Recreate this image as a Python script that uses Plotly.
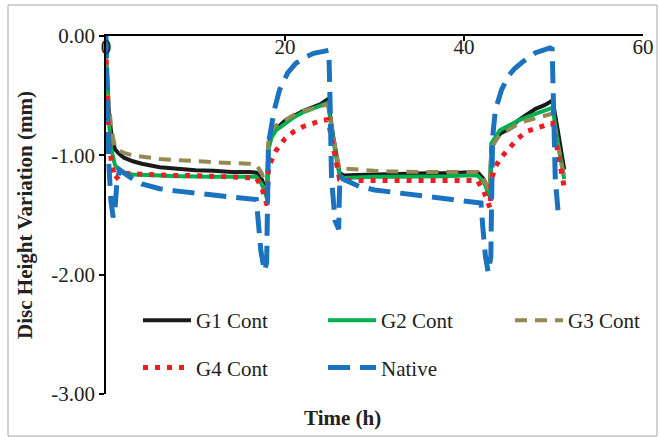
import plotly.graph_objects as go

# ---------------- data ----------------
time_g = [0, 0.1, 0.3, 0.6, 1.0, 1.5, 2, 3, 4, 6,
          8, 10, 12, 14, 16, 16.8, 17.4, 18.0, 18.15, 18.5,
          19, 20, 21, 22, 23, 24, 24.8, 25.4, 26.1, 26.6,
          28, 30, 32, 34, 36, 38, 40, 41.5, 42.2, 42.9,
          43.05, 43.5, 44, 45, 46, 47, 48, 49, 49.9, 50.5,
          51.2]

g1_cont = [-0.18, -0.35, -0.62, -0.82, -0.95, -0.99, -1.02, -1.05, -1.07, -1.10,
           -1.115, -1.125, -1.13, -1.14, -1.14, -1.145, -1.20, -1.32, -0.92, -0.83,
           -0.78, -0.71, -0.67, -0.63, -0.60, -0.57, -0.53, -0.85, -1.15, -1.17,
           -1.165, -1.16, -1.16, -1.155, -1.15, -1.15, -1.145, -1.14, -1.20, -1.32,
           -0.93, -0.87, -0.82, -0.78, -0.71, -0.66, -0.61, -0.58, -0.54, -0.80,
           -1.12]

g2_cont = [-0.20, -0.40, -0.70, -0.95, -1.08, -1.13, -1.15, -1.16, -1.165, -1.17,
           -1.175, -1.18, -1.18, -1.18, -1.18, -1.18, -1.24, -1.36, -0.95, -0.85,
           -0.79, -0.73, -0.68, -0.64, -0.61, -0.58, -0.56, -0.88, -1.17, -1.19,
           -1.185, -1.18, -1.18, -1.18, -1.175, -1.175, -1.17, -1.17, -1.22, -1.35,
           -0.90, -0.84, -0.79, -0.75, -0.71, -0.68, -0.65, -0.62, -0.60, -0.90,
           -1.20]

g3_cont = [-0.15, -0.30, -0.55, -0.78, -0.93, -0.96, -0.98, -1.00, -1.01, -1.03,
           -1.04, -1.05, -1.06, -1.065, -1.07, -1.08, -1.15, -1.28, -0.85, -0.79,
           -0.75, -0.70, -0.66, -0.63, -0.61, -0.59, -0.57, -0.85, -1.12, -1.11,
           -1.12, -1.13, -1.135, -1.14, -1.14, -1.14, -1.14, -1.14, -1.20, -1.30,
           -0.95, -0.88, -0.83, -0.78, -0.74, -0.71, -0.69, -0.67, -0.65, -0.92,
           -1.18]

g4_cont = [-0.20, -0.50, -0.85, -1.05, -1.20, -1.17, -1.15, -1.155, -1.16, -1.165,
           -1.17, -1.17, -1.175, -1.18, -1.18, -1.19, -1.27, -1.42, -1.10, -1.03,
           -0.96, -0.86, -0.80, -0.76, -0.73, -0.71, -0.70, -0.95, -1.20, -1.21,
           -1.21, -1.21, -1.21, -1.21, -1.21, -1.21, -1.21, -1.21, -1.30, -1.44,
           -1.20, -1.10, -1.03, -0.94, -0.86, -0.80, -0.77, -0.75, -0.73, -0.98,
           -1.27]

time_native = [0, 0.1, 0.3, 0.55, 0.8, 1.0, 1.2, 1.5, 2, 3,
               4, 6, 8, 10, 12, 14, 16.8, 17.0, 17.3, 17.7,
               17.95, 18.05, 18.15, 18.5, 18.8, 19.4, 20.3, 21.2, 22.2, 23.2,
               24.2, 24.9, 25.05, 25.2, 25.6, 26.0, 26.05, 26.15, 26.5, 28.3,
               30, 32, 34, 36, 38, 40, 41.9, 42.1, 42.4, 42.7,
               43.0, 43.1, 43.2, 43.5, 44.2, 45.0, 45.7, 46.5, 47.2, 48.0,
               48.8, 49.6, 49.85, 49.95, 50.2, 50.5]

native = [0, -0.5, -1.05, -1.38, -1.52, -1.45, -1.25, -1.12, -1.15, -1.2,
          -1.24, -1.28, -1.30, -1.32, -1.34, -1.35, -1.37, -1.55, -1.8, -1.97,
          -1.9, -1.4, -0.9, -0.75, -0.62, -0.45, -0.31, -0.23, -0.18, -0.145,
          -0.125, -0.12, -0.6, -1.2, -1.55, -1.62, -1.4, -1.17, -1.2, -1.26,
          -1.29, -1.31, -1.33, -1.35, -1.37, -1.38, -1.4, -1.6, -1.85, -1.98,
          -1.85, -1.3, -0.85, -0.62, -0.45, -0.33, -0.27, -0.22, -0.18, -0.14,
          -0.12, -0.10, -0.11, -0.6, -1.2, -1.46]

x_ticks = [0, 20, 40, 60]
y_ticks = [0, -1, -2, -3]
y_tick_text = ["0.00", "-1.00", "-2.00", "-3.00"]

# ---------------- layout constants ----------------
W, H = 659, 437
L, R, T, B = 106, 16, 36, 43
PW, PH = W - L - R, H - T - B
FONT = "Liberation Serif, Times New Roman, serif"
FS = 21


def px_x(px):
    return (px - L) / PW


def px_y(py):
    return (H - B - py) / PH


fig = go.Figure()

series = [
    ("G1 Cont", time_g, g1_cont, dict(color="#1a1a1a", width=4), "legend", "a"),
    ("G2 Cont", time_g, g2_cont, dict(color="#00b050", width=4), "legend2", "b"),
    ("G3 Cont", time_g, g3_cont, dict(color="#938953", width=4, dash="12px,8px"), "legend3", "c"),
    ("G4 Cont", time_g, g4_cont, dict(color="#ee1c24", width=5, dash="5px,7px"), "legend", "d"),
    ("Native", time_native, native, dict(color="#1b72be", width=5, dash="22px,10px"), "legend2", "e"),
]
for name, xs, ys, line, leg, grp in series:
    fig.add_trace(go.Scatter(x=xs, y=ys, mode="lines", name=name, line=line,
                             legend=leg, legendgroup=grp))

leg_common = dict(orientation="v", bgcolor="rgba(0,0,0,0)", borderwidth=0,
                  font=dict(family=FONT, size=FS, color="#222222"),
                  itemwidth=48, tracegroupgap=17, xanchor="left", yanchor="top",
                  itemclick=False, itemdoubleclick=False)
leg_top = px_y(300)

fig.update_layout(
    width=W, height=H,
    margin=dict(l=L, r=R, t=T, b=B, autoexpand=False),
    paper_bgcolor="white", plot_bgcolor="white",
    font=dict(family=FONT, size=FS, color="#222222"),
    showlegend=True,
    legend=dict(x=px_x(138), y=leg_top, **leg_common),
    legend2=dict(x=px_x(323), y=leg_top, **leg_common),
    legend3=dict(x=px_x(510), y=leg_top, **leg_common),
    xaxis=dict(range=[0, 60], side="top", tickvals=x_ticks, ticks="inside", ticklen=5,
               tickwidth=1.5, tickcolor="black", ticklabelposition="inside",
               ticklabeloverflow="allow", showline=True, linecolor="black", linewidth=1.5,
               showgrid=False, zeroline=False,
               tickfont=dict(family=FONT, size=FS, color="#222222")),
    yaxis=dict(range=[-3, 0], tickvals=y_ticks, ticktext=y_tick_text, ticks="outside",
               ticklen=5, tickwidth=1.5, tickcolor="black", showline=True,
               linecolor="black", linewidth=1.5, showgrid=False, zeroline=False,
               tickfont=dict(family=FONT, size=FS, color="#222222"),
               title=dict(text="<b>Disc Height Variation (mm)</b>",
                          font=dict(family=FONT, size=FS, color="#222222"), standoff=13)),
    shapes=[dict(type="rect", xref="paper", yref="paper",
                 x0=px_x(8), x1=px_x(657), y0=px_y(436), y1=px_y(5),
                 line=dict(color="#a6a6a6", width=1), fillcolor="rgba(0,0,0,0)",
                 layer="below")],
    annotations=[dict(text="<b>Time (h)</b>", xref="paper", yref="paper",
                      x=px_x(342), y=px_y(418), xanchor="center", yanchor="middle",
                      showarrow=False,
                      font=dict(family=FONT, size=FS, color="#222222"))],
)

fig.write_html("out.html", config={"displayModeBar": False},
               post_script="document.body.style.margin='0';document.body.style.overflow='hidden';")
